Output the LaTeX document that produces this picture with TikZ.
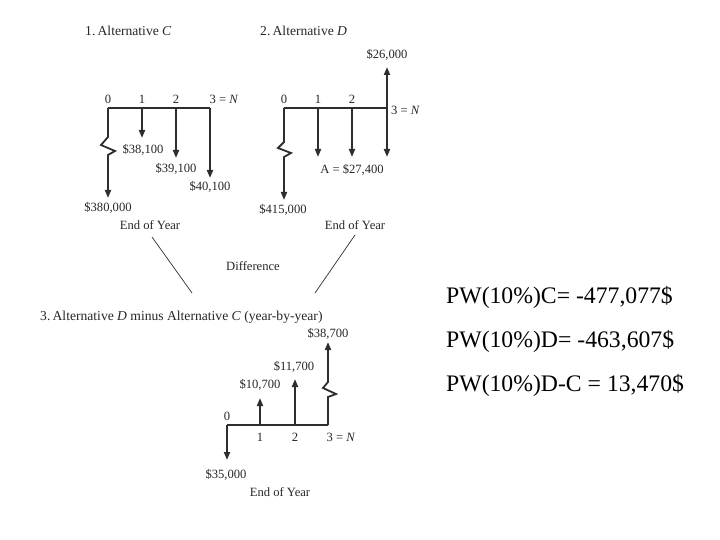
\documentclass[tikz,border=0pt]{standalone}
\usepackage{fontspec}
\setmainfont{Liberation Serif}
\usetikzlibrary{arrows.meta}
\definecolor{linegray}{HTML}{2E2E2E}
\definecolor{txtgray}{HTML}{262626}
\begin{document}
\begin{tikzpicture}[x=1pt,y=-1pt,
  axis/.style={draw=linegray, line width=1.8pt, line join=miter},
  flow/.style={draw=linegray, line width=1.8pt, line join=miter, -{Triangle[length=8pt,width=6pt]}},
  link/.style={draw=linegray, line width=0.7pt},
  lbl/.style={font=\fontsize{12.6}{14}\selectfont, inner sep=0pt, text=txtgray},
  ttl/.style={font=\fontsize{13.6}{15}\selectfont, inner sep=0pt, text=txtgray, anchor=west},
  pw/.style={font=\fontsize{23.7}{26}\selectfont, inner sep=0pt, anchor=west, text=black}]
\useasboundingbox (0,0) rectangle (720,540);

% ---------- 1. Alternative C ----------
\node[ttl] (t1) at (85,31) {1.\,Alternative \textit{C}};
\coordinate (c0) at (108,108);
\coordinate (c1) at (142,108);
\coordinate (c2) at (176,108);
\coordinate (c3) at (210,108);
\coordinate (c0e) at (108,198);
\coordinate (c1e) at (142,138);
\coordinate (c2e) at (176,158);
\coordinate (c3e) at (210,178);
\draw[axis] (c0) -- (c3);
\draw[flow] (c0) -- (108,137) -- (101,145) -- (115,151) -- (108,155) -- (c0e);
\draw[flow] (c1) -- (c1e);
\draw[flow] (c2) -- (c2e);
\draw[flow] (c3) -- (c3e);
\node[lbl] (c0l) at (108,99) {0};
\node[lbl] (c1l) at (142,99) {1};
\node[lbl] (c2l) at (176,99) {2};
\node[lbl] (c3l) at (224,99) {3 = \textit{N}};
\node[lbl] (c0v) at (108,208) {\$380,000};
\node[lbl] (c1v) at (143,150) {\$38,100};
\node[lbl] (c2v) at (176,169) {\$39,100};
\node[lbl] (c3v) at (210,187) {\$40,100};
\node[lbl] (eoy1) at (150,225) {End of Year};

% ---------- 2. Alternative D ----------
\node[ttl] (t2) at (260,31) {2.\,Alternative \textit{D}};
\coordinate (d0) at (284,108);
\coordinate (d1) at (318,108);
\coordinate (d2) at (352,108);
\coordinate (d3) at (387,108);
\coordinate (d0e) at (284,200);
\coordinate (d1e) at (318,157);
\coordinate (d2e) at (352,157);
\coordinate (d3e) at (387,157);
\coordinate (d3u) at (387,67);
\draw[axis] (d0) -- (d3);
\draw[flow] (d0) -- (284,142) -- (278,148) -- (291,153) -- (284,157) -- (d0e);
\draw[flow] (d1) -- (d1e);
\draw[flow] (d2) -- (d2e);
\draw[flow] (d3) -- (d3e);
\draw[flow] (d3) -- (d3u);
\node[lbl] (d0l) at (284,99) {0};
\node[lbl] (d1l) at (318,99) {1};
\node[lbl] (d2l) at (352,99) {2};
\node[lbl, anchor=west] (d3l) at (391,110) {3 = \textit{N}};
\node[lbl] (d3v) at (387,55) {\$26,000};
\node[lbl] (dav) at (352,170) {A = \$27,400};
\node[lbl] (d0v) at (283,210) {\$415,000};
\node[lbl] (eoy2) at (355,225) {End of Year};

% ---------- Difference ----------
\coordinate (ls) at (152,237);
\coordinate (le) at (192,293);
\coordinate (rs) at (355,235);
\coordinate (re) at (315,293);
\draw[link] (ls) -- (le);
\draw[link] (rs) -- (re);
\node[lbl] (diff) at (253,266) {Difference};

% ---------- 3. D minus C ----------
\node[ttl] (t3) at (40,317) {3.\,Alternative \textit{D} minus Alternative \textit{C} (year-by-year)};
\coordinate (e0) at (227,425);
\coordinate (e1) at (260,425);
\coordinate (e2) at (295,425);
\coordinate (e3) at (328,425);
\coordinate (e0e) at (227,460);
\coordinate (e1e) at (260,398);
\coordinate (e2e) at (295,379);
\coordinate (e3e) at (328,342);
\draw[axis] (e0) -- (e3);
\draw[flow] (e0) -- (e0e);
\draw[flow] (e1) -- (e1e);
\draw[flow] (e2) -- (e2e);
\draw[flow] (e3) -- (328,397) -- (336,394) -- (323,388) -- (328,382) -- (e3e);
\node[lbl] (e0l) at (227,416) {0};
\node[lbl] (e1l) at (260,437) {1};
\node[lbl] (e2l) at (295,437) {2};
\node[lbl] (e3l) at (341,437) {3 = \textit{N}};
\node[lbl] (e0v) at (226,475) {\$35,000};
\node[lbl] (e1v) at (260,385) {\$10,700};
\node[lbl] (e2v) at (294,367) {\$11,700};
\node[lbl] (e3v) at (328,334) {\$38,700};
\node[lbl] (eoy3) at (280,492) {End of Year};

% ---------- Present worths ----------
\node[pw] (pwc) at (446,297) {PW(10\%)C= -477,077\$};
\node[pw] (pwd) at (446,341) {PW(10\%)D= -463,607\$};
\node[pw] (pwdc) at (446,385) {PW(10\%)D-C = 13,470\$};
\end{tikzpicture}
\end{document}
